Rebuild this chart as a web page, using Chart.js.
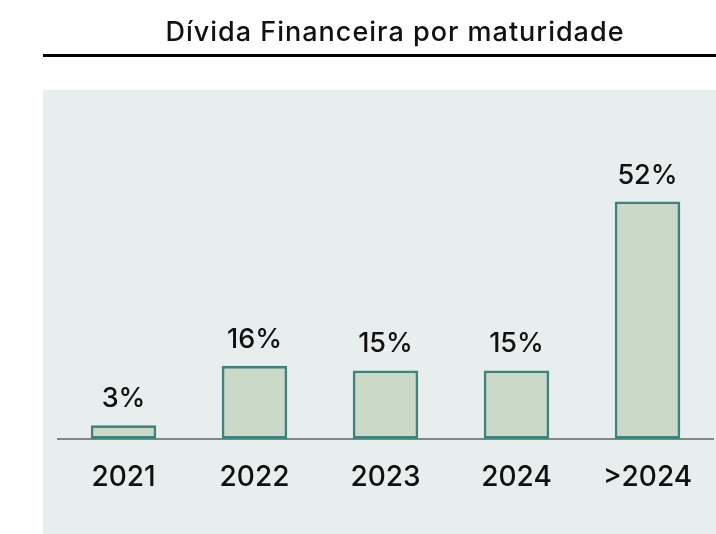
<!DOCTYPE html>
<html>
<head>
<meta charset="utf-8">
<script src="https://cdn.jsdelivr.net/npm/chart.js@4"></script>
<style>
  html, body { margin: 0; padding: 0; background: #ffffff; }
  #wrap { position: relative; width: 716px; height: 534px; }
</style>
</head>
<body>
<div id="wrap"><canvas id="chart" width="716" height="534"></canvas></div>
<script>
// dados do gráfico
const titulo = 'Dívida Financeira por maturidade';
const categorias = ['2021', '2022', '2023', '2024', '>2024'];
const valores = [3, 16, 15, 15, 52];
const rotulos = ['3%', '16%', '15%', '15%', '52%'];

const fonte = 'Inter, Lato, "Noto Sans", sans-serif';

// fundo cinza, título e linha preta
const decoracao = {
    id: 'decoracao',
    beforeDraw(chart) {
        const c = chart.ctx;
        c.save();
        c.fillStyle = '#e8eded';
        c.fillRect(43, 90, 673, 444);
        c.fillStyle = '#000000';
        c.fillRect(43, 54, 673, 3);
        c.font = '500 27px ' + fonte;
        c.letterSpacing = '1px';
        c.textAlign = 'center';
        c.textBaseline = 'alphabetic';
        c.fillStyle = '#111111';
        c.fillText(titulo, 395, 41);
        c.restore();
    }
};

// rótulos de porcentagem acima das barras
const rotulosBarras = {
    id: 'rotulosBarras',
    afterDatasetsDraw(chart) {
        const c = chart.ctx;
        const meta = chart.getDatasetMeta(0);
        c.save();
        c.font = '500 27px ' + fonte;
        c.textAlign = 'center';
        c.textBaseline = 'alphabetic';
        c.fillStyle = '#111111';
        meta.data.forEach(function (bar, i) {
            c.fillText(rotulos[i], bar.x, bar.y - 18);
        });
        c.restore();
    }
};

new Chart(document.getElementById('chart').getContext('2d'), {
    type: 'bar',
    data: {
        labels: categorias,
        datasets: [{
            data: valores,
            backgroundColor: '#cad9c8',
            borderColor: '#41837a',
            borderWidth: 2.8,
            borderSkipped: false,
            barPercentage: 0.5,
            categoryPercentage: 1
        }]
    },
    options: {
        responsive: false,
        animation: false,
        layout: {
            padding: { left: 58, right: 3, top: 165, bottom: 17.5 }
        },
        plugins: {
            legend: { display: false },
            tooltip: { enabled: false }
        },
        scales: {
            y: {
                display: false,
                min: 0,
                max: 60
            },
            x: {
                grid: { display: false, drawTicks: false },
                border: { display: true, color: '#858585', width: 2 },
                ticks: {
                    padding: 22,
                    color: '#111111',
                    font: { family: fonte, size: 28, weight: '500' }
                }
            }
        }
    },
    plugins: [decoracao, rotulosBarras]
});
</script>
</body>
</html>
